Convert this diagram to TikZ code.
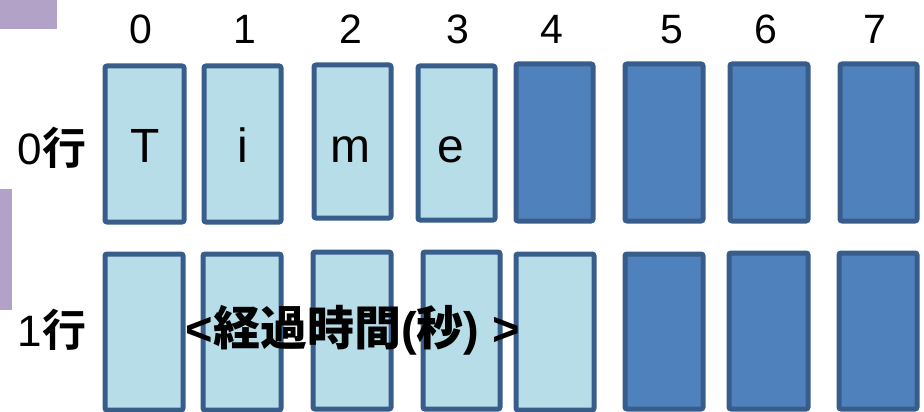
\documentclass[tikz,border=0pt]{standalone}
\usepackage{fontspec}
\setmainfont{Liberation Sans}
\newfontfamily\cjk{Noto Sans CJK JP}
\newfontfamily\cjkb{Noto Sans CJK JP Bold}
\definecolor{lightc}{HTML}{B7DDE8}
\definecolor{darkc}{HTML}{4F81BD}
\definecolor{edgec}{HTML}{385D8A}
\definecolor{purp}{HTML}{B3A2C7}
\begin{document}
\begin{tikzpicture}[x=1pt,y=-1pt,
  cell/.style={draw=edgec,line width=5pt,rounded corners=2pt},
  lt/.style={cell,fill=lightc},
  dk/.style={cell,fill=darkc},
  lbl/.style={font=\fontsize{41}{41}\selectfont,inner sep=0pt,anchor=base},
  letter/.style={lbl,font=\fontsize{48}{48}\selectfont},
  rowlbl/.style={lbl,font=\fontsize{44}{44}\selectfont}]
\useasboundingbox (0,0) rectangle (924,412);
\fill[purp] (0,0) rectangle (57,29);
\fill[purp] (0,189) rectangle (12,310);
% row 0
\draw[lt] (105,66) rectangle (184,222);
\draw[lt] (204,66) rectangle (281,222);
\draw[lt] (314,65) rectangle (391,218);
\draw[lt] (418,66) rectangle (495,220);
\draw[dk] (516,64) rectangle (593,221);
\draw[dk] (625,64) rectangle (703,221);
\draw[dk] (730,64) rectangle (808,221);
\draw[dk] (840,64) rectangle (917,221);
% row 1
\draw[lt] (105,254) rectangle (183,410);
\draw[lt] (203,254) rectangle (281,410);
\draw[lt] (313,252) rectangle (391,409);
\draw[lt] (423,252) rectangle (500,409);
\draw[lt] (516,254) rectangle (594,410);
\draw[dk] (625,254) rectangle (703,409);
\draw[dk] (729,253) rectangle (808,409);
\draw[dk] (839,253) rectangle (917,409);
% column labels
\foreach \n/\x in {0/141,1/245,2/351,3/458,4/552,5/672,6/766,7/875}
  \node[lbl] (c\n) at (\x,44) {\n};
% row labels
\node[rowlbl] (r0) at (52,164) {0{\cjkb 行}};
\node[rowlbl] (r1) at (52,346) {1{\cjkb 行}};
% letters
\node[letter] (t0) at (145,162) {T};
\node[letter] (t1) at (243,162) {i};
\node[letter] (t2) at (350,162) {m};
\node[letter] (t3) at (451,162) {e};
% caption
\node[lbl,font=\fontsize{47}{47}\selectfont\bfseries] (cap) at (353,345) {<{\cjkb 経過時間}({\cjkb 秒}) >};
\end{tikzpicture}
\end{document}
